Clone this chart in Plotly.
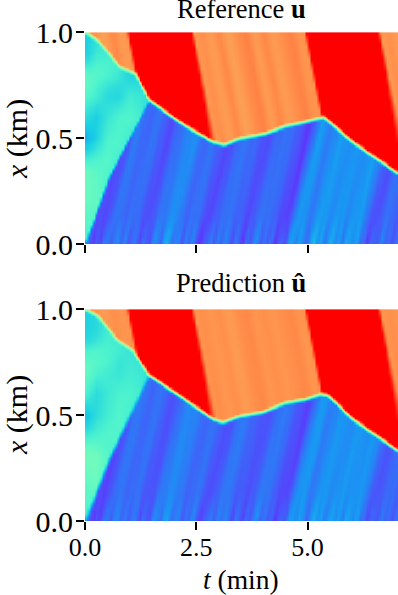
import numpy as np
import plotly.graph_objects as go
from plotly.subplots import make_subplots

# Everything below (t in min, x in km, values on a 0-1 rainbow scale)
front_t_ref = [0.0, 0.31, 0.76, 1.14, 1.44, 2.11, 2.86, 3.12, 3.46, 4.05, 4.50, 4.95, 5.36, 6.00, 7.03]
front_x_ref = [1.0, 0.956, 0.84, 0.80, 0.68, 0.577, 0.483, 0.467, 0.498, 0.522, 0.557, 0.577, 0.60, 0.483, 0.333]
front_t_pred = [0.0, 0.31, 0.69, 1.06, 1.44, 2.11, 2.86, 3.08, 3.46, 3.98, 4.50, 4.95, 5.29, 5.44, 6.00, 7.03]
front_x_pred = [1.0, 0.964, 0.861, 0.806, 0.688, 0.593, 0.483, 0.464, 0.495, 0.514, 0.558, 0.574, 0.60, 0.596, 0.483, 0.331]

# left wedge / blue boundary
wedge_x_ref = [0.0, 0.317, 0.68, 1.0]
wedge_t_ref = [0.0, 0.54, 1.44, 2.2]
wedge_x_pred = [0.0, 0.293, 0.656, 1.0]
wedge_t_pred = [0.0, 0.54, 1.36, 2.2]

# red bands, position of the edges at x = 1
red_left = [0.95, 4.94]
red_right = [2.41, 6.60]

# stripes in the blue zone, traced back to the bottom edge, every 0.125 min
blue_ref = [.11, .10, .09, .10, .16, .14, .13, .15, .14, .11, .09, .12, .15, .16, .18, .19, .15, .13, .15,
            .14, .11, .08, .11, .14, .15, .14, .13, .11, .09, .12, .14, .15, .14, .12, .09, .07, .14, .21,
            .19, .16, .18, .21, .20, .18, .20, .20, .18, .20, .21, .17, .12, .09, .13, .15, .13, .12, .13]
blue_pred = [.11, .10, .08, .10, .15, .15, .13, .14, .15, .12, .10, .11, .15, .17, .18, .17, .15, .13, .14,
             .15, .12, .09, .11, .15, .16, .14, .12, .11, .10, .12, .15, .16, .14, .11, .09, .08, .15, .20,
             .20, .16, .17, .20, .20, .18, .19, .21, .19, .19, .20, .18, .13, .10, .12, .14, .14, .12, .13]

# fine ripple that shows only close to the bottom edge, every 0.08 min
ripple_ref = [.00, .03, -.03, .04, -.02, .05, .01, -.04, .03, .06, -.02, .04, -.05, .02, .05, -.03, .06, .00,
              -.04, .05, .02, -.05, .04, .06, -.03, .01, .05, -.04, .03, -.02, .06, -.01, -.05, .04, .02, .06,
              -.04, .03, -.03, .05, .01, -.05, .06, .02, -.04, .05, -.03, .03, .06, -.05, .02, -.02, .05, -.04,
              .03, .06, -.05, .04, .00, -.03, .05, .02, -.05, .03, .06, -.02, .04, -.04, .02, .05, -.03, .03,
              -.05, .04, .01, -.03, .05, -.02, .03, -.04, .05, .00, -.03, .04, -.02, .03, -.03, .02]
ripple_pred = [.00, .02, -.03, .03, -.02, .04, .02, -.04, .03, .05, -.01, .03, -.04, .02, .04, -.03, .05, .01,
               -.03, .05, .01, -.04, .03, .05, -.03, .02, .05, -.03, .02, -.02, .05, .00, -.04, .03, .03, .05,
               -.04, .02, -.02, .04, .02, -.05, .05, .03, -.03, .04, -.03, .02, .05, -.04, .03, -.01, .04, -.03,
               .03, .05, -.04, .03, .01, -.03, .04, .03, -.04, .02, .05, -.02, .03, -.03, .02, .04, -.03, .02,
               -.04, .04, .02, -.02, .04, -.02, .02, -.03, .04, .01, -.02, .03, -.02, .02, -.02, .02]

# stripes in the orange zone, taken along the top edge every 0.2 min
orange_ref = [.79, .81, .78, .82, .79, .81, .83, .82, .81, .80, .79, .79, .79, .81, .79, .82, .78,
              .81, .83, .79, .82, .79, .81, .83, .80, .81, .82, .81, .81, .81, .80, .80, .80, .79, .81, .79, .81]
orange_pred = [.80, .81, .79, .81, .80, .81, .82, .82, .81, .80, .79, .80, .80, .81, .80, .81, .79,
               .81, .82, .80, .81, .80, .81, .82, .80, .81, .81, .81, .81, .81, .80, .80, .80, .80, .81, .80, .81]

# left wedge values, coarse table
wedge_grid_t = [0.0, 0.25, 0.5, 0.75, 1.0, 1.25, 1.5]
wedge_grid_x = [0.0, 0.1, 0.2, 0.3, 0.35, 0.4, 0.45, 0.5, 0.6, 0.7, 0.75, 0.8, 0.85, 0.9, 1.0]
wedge_ref = [
    [.38, .40, .40, .40, .38, .38, .38],
    [.42, .42, .42, .40, .38, .38, .38],
    [.45, .44, .42, .40, .38, .38, .38],
    [.46, .44, .40, .38, .38, .38, .38],
    [.45, .43, .41, .38, .38, .38, .38],
    [.38, .40, .42, .38, .38, .38, .38],
    [.30, .36, .41, .40, .38, .38, .38],
    [.24, .31, .40, .41, .38, .38, .38],
    [.34, .30, .36, .40, .41, .38, .33],
    [.42, .38, .33, .32, .38, .36, .33],
    [.45, .40, .36, .34, .34, .34, .33],
    [.43, .42, .40, .37, .31, .33, .33],
    [.36, .40, .40, .38, .33, .33, .33],
    [.30, .37, .38, .38, .33, .33, .33],
    [.30, .33, .38, .38, .33, .33, .33],
]
wedge_pred = [
    [.38, .38, .38, .38, .36, .36, .36],
    [.42, .42, .40, .38, .36, .36, .36],
    [.45, .46, .42, .40, .38, .36, .36],
    [.47, .47, .42, .40, .38, .36, .36],
    [.45, .44, .41, .40, .38, .36, .36],
    [.38, .40, .41, .41, .38, .36, .36],
    [.31, .37, .40, .41, .39, .36, .36],
    [.27, .34, .38, .41, .39, .36, .34],
    [.40, .33, .37, .40, .40, .38, .33],
    [.45, .40, .38, .36, .38, .37, .33],
    [.44, .42, .40, .36, .37, .36, .33],
    [.40, .41, .40, .38, .36, .35, .33],
    [.33, .36, .39, .38, .35, .34, .33],
    [.31, .33, .38, .38, .35, .34, .33],
    [.30, .33, .38, .38, .35, .34, .33],
]

x_ticks = [0.0, 2.5, 5.0]
y_ticks = [0.0, 0.5, 1.0]

rainbow = [[0.0, '#8000ff'], [0.1, '#4d4ffb'], [0.2, '#1996f3'], [0.3, '#1acfe3'], [0.4, '#4df3ce'],
           [0.5, '#80ffb4'], [0.6, '#b3f396'], [0.7, '#e6cf74'], [0.8, '#ff964f'], [0.9, '#ff4f28'], [1.0, '#ff0000']]

T_MAX = 7.03
nt, nx = 128, 100
t_cells = (np.arange(nt) + 0.5) / nt * T_MAX
x_cells = (np.arange(nx) + 0.5) / nx


def ramp(d, w):
    return np.clip(d / w + 0.5, 0, 1)


def build_field(front_t, front_x, wedge_x, wedge_t, blue, ripple, orange, wedge_tab, wedge_w):
    T, X = np.meshgrid(t_cells, x_cells)
    front = np.interp(T, front_t, front_x)
    edge = np.interp(X, wedge_x, wedge_t)

    # the stripes lean along the characteristics
    blue_z = np.interp(T - 1.2 * X, np.arange(len(blue)) * 0.125, blue)
    ripple_z = np.interp(T - 0.9 * X, np.arange(len(ripple)) * 0.08, ripple)
    blue_z = blue_z + ripple_z * np.clip(1 - X / 0.16, 0.15, 1)
    foot = T - 0.9 * (1 - X)
    orange_z = np.interp(foot, np.arange(len(orange)) * 0.2, orange)

    tab = np.array([[np.interp(v, wedge_grid_x, np.array(wedge_tab)[:, j]) for v in x_cells]
                    for j in range(len(wedge_grid_t))])
    wedge_z = np.array([np.interp(t_cells, wedge_grid_t, tab[:, i]) for i in range(nx)])

    below = wedge_z + (blue_z - wedge_z) * ramp(T - edge, wedge_w)
    red_share = np.zeros_like(T)
    soft = 0.05 + 0.18 * (1 - X)
    for a, b in zip(red_left, red_right):
        red_share = np.maximum(red_share, ramp(foot - a, 0.05) * ramp(b - foot, soft))
    above = orange_z + (1.0 - orange_z) * red_share

    return below + (above - below) * ramp(X - front, 0.024)


z_ref = build_field(front_t_ref, front_x_ref, wedge_x_ref, wedge_t_ref, blue_ref, ripple_ref, orange_ref, wedge_ref, 0.05)
z_pred = build_field(front_t_pred, front_x_pred, wedge_x_pred, wedge_t_pred, blue_pred, ripple_pred, orange_pred, wedge_pred, 0.09)

fig = make_subplots(rows=2, cols=1, shared_xaxes=True)
for row, z in [(1, z_ref), (2, z_pred)]:
    fig.add_trace(go.Heatmap(x=t_cells, y=x_cells, z=z, colorscale=rainbow, zmin=0, zmax=1,
                             zsmooth='best', showscale=False), row=row, col=1)
    # pale top row of the image
    fig.add_shape(type='line', x0=0, x1=T_MAX, y0=1, y1=1, line=dict(color='rgba(255,255,255,0.5)', width=1.5),
                  row=row, col=1)

serif = 'Liberation Serif'
tick_style = dict(ticks='outside', ticklen=8, tickwidth=1.5, tickcolor='black', showline=False, automargin=False,
                  showgrid=False, zeroline=False)

fig.update_xaxes(range=[0, T_MAX], tickmode='array', tickvals=x_ticks, domain=[85 / 398, 1], ticklabelstandoff=-5,
                 tickfont=dict(family=serif, size=26, color='black'), **tick_style)
fig.update_xaxes(showticklabels=False, row=1, col=1)
fig.update_xaxes(ticktext=['0.0', '2.5', '5.0'], showticklabels=True, row=2, col=1)
fig.update_yaxes(range=[0, 1], tickmode='array', tickvals=y_ticks, ticktext=['0.0', '0.5', '1.0'],
                 tickfont=dict(family=serif, size=30, color='black'), ticklabelstandoff=-3, **tick_style)
fig.update_yaxes(domain=[1 - 244 / 595, 1 - 32 / 595], row=1, col=1)
fig.update_yaxes(domain=[1 - 521 / 595, 1 - 309 / 595], row=2, col=1)

# titles placed by hand, pixel positions from the picture
labels = [
    ('Reference <b>u</b>', 241, 9, 0, 26.5),
    ('Prediction <b>û</b>', 241, 283, 0, 26.5),
    ('<i>x</i> (km)', 17, 139, -90, 30),
    ('<i>x</i> (km)', 17, 415, -90, 30),
    ('<i>t</i> (min)', 241, 579, 0, 27.5),
]
fig.update_layout(
    width=398, height=595,
    margin=dict(l=0, r=0, t=0, b=0),
    paper_bgcolor='white', plot_bgcolor='white',
    annotations=[dict(text=txt, xref='paper', yref='paper', x=px / 398, y=1 - py / 595, textangle=ang,
                      showarrow=False, xanchor='center', yanchor='middle',
                      font=dict(family=serif, size=size, color='black'))
                 for txt, px, py, ang, size in labels],
)

# the page body has a default margin that would push the figure out of the window
fig.write_html("out.html", post_script="document.body.style.margin='0';",
               config=dict(displayModeBar=False))
